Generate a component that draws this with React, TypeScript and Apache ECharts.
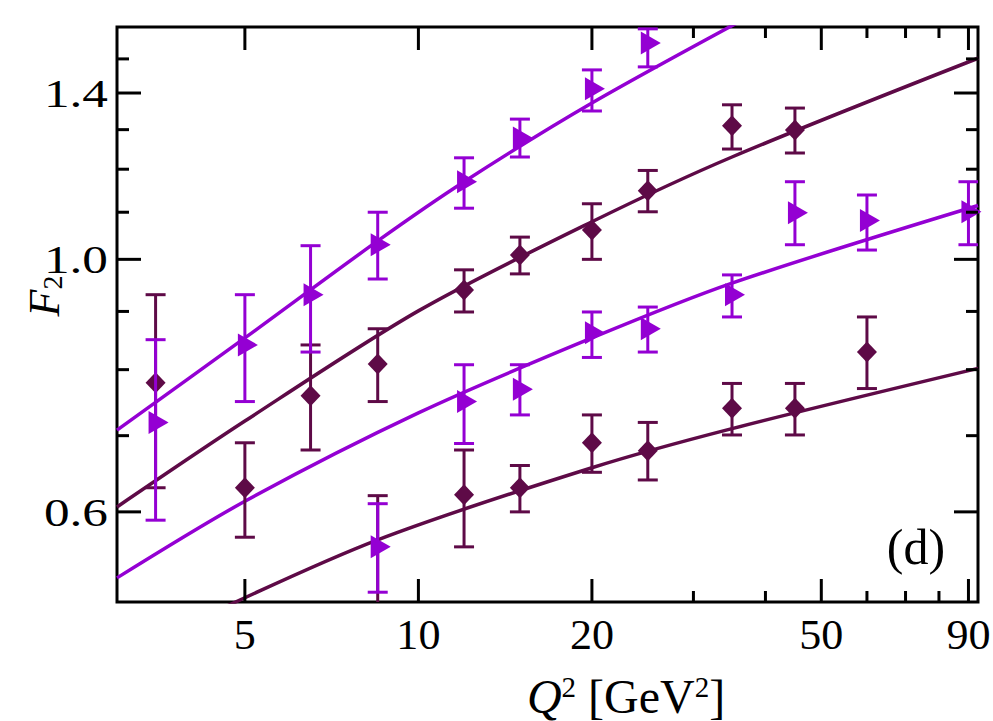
import React, { useEffect, useRef } from "react";
import * as echarts from "echarts";

// Axis ranges (log scales)
const X_MIN = 3;
const X_MAX = 93.5;
const Y_MIN = 0.5;
const Y_MAX = 1.6;

// Tick values and labels
const X_MAJOR_TICKS = [5, 10, 20, 50, 90];
const X_TICK_LABELS = ["5", "10", "20", "50", "90"];
const X_MINOR_TICKS = [30, 40, 60, 70, 80];
const Y_MAJOR_TICKS = [0.6, 1.0, 1.4];
const Y_TICK_LABELS = ["0.6", "1.0", "1.4"];
const Y_MINOR_TICKS = [0.7, 0.8, 0.9, 1.1, 1.2, 1.3, 1.5];

// Upper violet data set (triangles)
const Q_VIOLET_A = [3.5, 5, 6.5, 8.5, 12, 15, 20, 25];
const F_VIOLET_A = [0.719, 0.841, 0.931, 1.03, 1.17, 1.278, 1.412, 1.549];
const LO_VIOLET_A = [0.59, 0.75, 0.829, 0.961, 1.109, 1.23, 1.35, 1.476];
const HI_VIOLET_A = [0.85, 0.931, 1.028, 1.1, 1.228, 1.328, 1.467, 1.594];

// Upper dark data set (diamonds)
const Q_DARK_A = [3.5, 5, 6.5, 8.5, 12, 15, 20, 25, 35, 45];
const F_DARK_A = [0.779, 0.63, 0.759, 0.809, 0.94, 1.009, 1.061, 1.149, 1.31, 1.299];
const LO_DARK_A = [0.63, 0.57, 0.68, 0.75, 0.899, 0.971, 1.0, 1.101, 1.25, 1.24];
const HI_DARK_A = [0.931, 0.69, 0.841, 0.869, 0.979, 1.046, 1.119, 1.197, 1.367, 1.358];

// Lower violet data set (triangles)
const Q_VIOLET_B = [8.5, 12, 15, 20, 25, 35, 45, 60, 90];
const F_VIOLET_B = [0.559, 0.75, 0.769, 0.862, 0.869, 0.931, 1.099, 1.082, 1.101];
const LO_VIOLET_B = [0.51, 0.689, 0.73, 0.82, 0.829, 0.89, 1.03, 1.019, 1.03];
const HI_VIOLET_B = [0.61, 0.808, 0.808, 0.899, 0.908, 0.969, 1.17, 1.139, 1.17];

// Lower dark data set (diamonds); the first point lies below the plotted range
const Q_DARK_B = [8.5, 12, 15, 20, 25, 35, 45, 60];
const F_DARK_B = [0.48, 0.621, 0.63, 0.69, 0.679, 0.74, 0.74, 0.829];
const LO_DARK_B = [0.42, 0.559, 0.6, 0.65, 0.64, 0.701, 0.701, 0.77];
const HI_DARK_B = [0.62, 0.68, 0.659, 0.73, 0.719, 0.778, 0.778, 0.89];

// Theory curves
const Q_CURVE_VIOLET_A = [3, 5, 8.5, 12, 20, 40];
const F_CURVE_VIOLET_A = [0.708, 0.853, 1.038, 1.17, 1.372, 1.664];
const Q_CURVE_DARK_A = [3, 5, 10, 20, 35, 93.5];
const F_CURVE_DARK_A = [0.606, 0.721, 0.901, 1.079, 1.23, 1.502];
const Q_CURVE_VIOLET_B = [3, 5, 10, 20, 35, 93.5];
const F_CURVE_VIOLET_B = [0.525, 0.613, 0.733, 0.853, 0.953, 1.115];
const Q_CURVE_DARK_B = [4.5, 8.5, 20, 35, 93.5];
const F_CURVE_DARK_B = [0.492, 0.567, 0.656, 0.71, 0.802];

const VIOLET = "#9400D3";
const DARK = "#5E0A47";
const FONT = "Liberation Serif";

const zip = (a: number[], b: number[]) => a.map((v, i) => [v, b[i]]);

function curveSeries(q: number[], f: number[], color: string) {
  return {
    type: "line",
    data: zip(q, f),
    showSymbol: false,
    smooth: 0.3,
    clip: true,
    z: 2,
    lineStyle: { color, width: 3.5 },
    silent: true,
  };
}

function errorBarSeries(q: number[], lo: number[], hi: number[], color: string, z: number) {
  return {
    type: "custom",
    clip: true,
    z,
    silent: true,
    data: q.map((v, i) => [v, lo[i], hi[i]]),
    encode: { x: 0, y: [1, 2] },
    renderItem: (params: any, api: any) => {
      const x = api.value(0);
      const a = api.coord([x, api.value(1)]);
      const b = api.coord([x, api.value(2)]);
      const w = 10;
      const st = { stroke: color, lineWidth: 3, fill: "none" };
      return {
        type: "group",
        children: [
          { type: "line", shape: { x1: a[0], y1: a[1], x2: b[0], y2: b[1] }, style: st },
          { type: "line", shape: { x1: a[0] - w, y1: a[1], x2: a[0] + w, y2: a[1] }, style: st },
          { type: "line", shape: { x1: b[0] - w, y1: b[1], x2: b[0] + w, y2: b[1] }, style: st },
        ],
      };
    },
  };
}

function diamondSeries(q: number[], f: number[], z: number) {
  return {
    type: "scatter",
    data: zip(q, f),
    symbol: "diamond",
    symbolSize: [20, 21],
    itemStyle: { color: DARK, opacity: 1 },
    clip: true,
    z,
    silent: true,
  };
}

function triangleSeries(q: number[], f: number[], z: number) {
  return {
    type: "scatter",
    data: zip(q, f),
    symbol: "triangle",
    symbolSize: [23, 20],
    symbolRotate: -90,
    symbolOffset: [3, 0],
    itemStyle: { color: VIOLET, opacity: 1 },
    clip: true,
    z,
    silent: true,
  };
}

function xTickSeries(values: number[], len: number, labels: string[] | null) {
  return {
    type: "custom",
    clip: false,
    z: 10,
    silent: true,
    data: values.map((v) => [v, Y_MIN]),
    encode: { x: 0, y: 1 },
    renderItem: (params: any, api: any) => {
      const v = api.value(0);
      const b = api.coord([v, Y_MIN]);
      const t = api.coord([v, Y_MAX]);
      const st = { stroke: "#000", lineWidth: 3 };
      const children: any[] = [
        { type: "line", shape: { x1: b[0], y1: b[1], x2: b[0], y2: b[1] - len }, style: st },
        { type: "line", shape: { x1: t[0], y1: t[1], x2: t[0], y2: t[1] + len }, style: st },
      ];
      if (labels) {
        children.push({
          type: "text",
          x: b[0],
          y: b[1] + 33,
          scaleX: 1.05,
          style: {
            text: labels[params.dataIndex],
            fill: "#000",
            fontSize: 42,
            fontFamily: FONT,
            align: "center",
            verticalAlign: "middle",
          },
        });
      }
      return { type: "group", children };
    },
  };
}

function yTickSeries(values: number[], len: number, labels: string[] | null) {
  return {
    type: "custom",
    clip: false,
    z: 10,
    silent: true,
    data: values.map((v) => [X_MIN, v]),
    encode: { x: 0, y: 1 },
    renderItem: (params: any, api: any) => {
      const v = api.value(1);
      const l = api.coord([X_MIN, v]);
      const r = api.coord([X_MAX, v]);
      const st = { stroke: "#000", lineWidth: 3 };
      const children: any[] = [
        { type: "line", shape: { x1: l[0], y1: l[1], x2: l[0] + len, y2: l[1] }, style: st },
        { type: "line", shape: { x1: r[0], y1: r[1], x2: r[0] - len, y2: r[1] }, style: st },
      ];
      if (labels) {
        children.push({
          type: "text",
          x: l[0] - 9,
          y: l[1],
          scaleX: 1.25,
          style: {
            text: labels[params.dataIndex],
            fill: "#000",
            fontSize: 41,
            fontFamily: FONT,
            align: "right",
            verticalAlign: "middle",
          },
        });
      }
      return { type: "group", children };
    },
  };
}

export default function App() {
  const ref = useRef<HTMLDivElement>(null);

  useEffect(() => {
    if (!ref.current) return;
    const chart = echarts.init(ref.current, null, { renderer: "svg" });
    chart.setOption({
      animation: false,
      backgroundColor: "#ffffff",
      grid: {
        left: 117,
        right: 15,
        top: 27,
        bottom: 119,
        show: true,
        borderColor: "#000",
        borderWidth: 3,
        backgroundColor: "transparent",
      },
      xAxis: {
        type: "log",
        logBase: 10,
        min: X_MIN,
        max: X_MAX,
        axisLine: { show: false },
        axisTick: { show: false },
        axisLabel: { show: false },
        splitLine: { show: false },
        minorTick: { show: false },
      },
      yAxis: {
        type: "log",
        logBase: 10,
        min: Y_MIN,
        max: Y_MAX,
        axisLine: { show: false },
        axisTick: { show: false },
        axisLabel: { show: false },
        splitLine: { show: false },
        minorTick: { show: false },
      },
      series: [
        curveSeries(Q_CURVE_DARK_A, F_CURVE_DARK_A, DARK),
        curveSeries(Q_CURVE_DARK_B, F_CURVE_DARK_B, DARK),
        curveSeries(Q_CURVE_VIOLET_A, F_CURVE_VIOLET_A, VIOLET),
        curveSeries(Q_CURVE_VIOLET_B, F_CURVE_VIOLET_B, VIOLET),
        errorBarSeries(Q_DARK_A, LO_DARK_A, HI_DARK_A, DARK, 3),
        errorBarSeries(Q_DARK_B, LO_DARK_B, HI_DARK_B, DARK, 3),
        diamondSeries(Q_DARK_A, F_DARK_A, 4),
        diamondSeries(Q_DARK_B, F_DARK_B, 4),
        errorBarSeries(Q_VIOLET_A, LO_VIOLET_A, HI_VIOLET_A, VIOLET, 5),
        errorBarSeries(Q_VIOLET_B, LO_VIOLET_B, HI_VIOLET_B, VIOLET, 5),
        triangleSeries(Q_VIOLET_A, F_VIOLET_A, 6),
        triangleSeries(Q_VIOLET_B, F_VIOLET_B, 6),
        xTickSeries(X_MAJOR_TICKS, 23, X_TICK_LABELS),
        xTickSeries(X_MINOR_TICKS, 11, null),
        yTickSeries(Y_MAJOR_TICKS, 24, Y_TICK_LABELS),
        yTickSeries(Y_MINOR_TICKS, 12, null),
      ],
      graphic: [
        {
          type: "text",
          x: 916,
          y: 547,
          z: 20,
          style: {
            text: "(d)",
            fill: "#000",
            fontSize: 50,
            fontFamily: FONT,
            align: "center",
            verticalAlign: "middle",
          },
        },
        {
          type: "text",
          x: 44,
          y: 296,
          rotation: Math.PI / 2,
          z: 20,
          style: {
            text: "{f|F}{s|2}",
            fill: "#000",
            fontSize: 44,
            fontFamily: FONT,
            align: "center",
            verticalAlign: "middle",
            rich: {
              f: { fontSize: 44, fontStyle: "italic", fontFamily: FONT, fill: "#000" },
              s: { fontSize: 28, fontFamily: FONT, fill: "#000", verticalAlign: "bottom" },
            },
          },
        },
        {
          type: "text",
          x: 626,
          y: 696,
          z: 20,
          style: {
            text: "{q|Q}{sup|2}{t| [GeV}{sup|2}{t|]}",
            fill: "#000",
            fontSize: 48,
            fontFamily: FONT,
            align: "center",
            verticalAlign: "middle",
            rich: {
              q: { fontSize: 48, fontStyle: "italic", fontFamily: FONT, fill: "#000", verticalAlign: "bottom" },
              t: { fontSize: 48, fontFamily: FONT, fill: "#000", verticalAlign: "bottom" },
              sup: { fontSize: 29, fontFamily: FONT, fill: "#000", verticalAlign: "top" },
            },
          },
        },
      ],
    });
    return () => chart.dispose();
  }, []);

  return (
    <div
      ref={ref}
      style={{ position: "fixed", left: 0, top: 0, width: 993, height: 721, background: "#fff" }}
    />
  );
}
